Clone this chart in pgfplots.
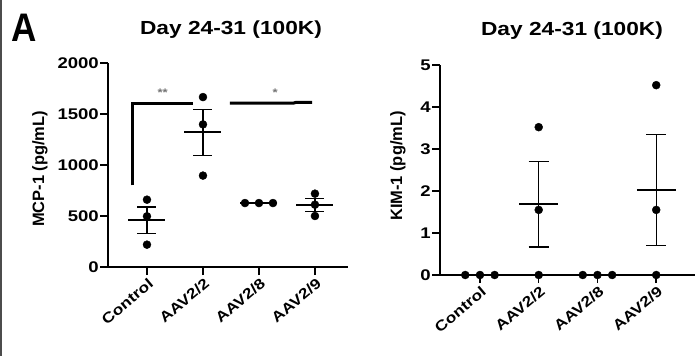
\documentclass[border=0pt]{standalone}
\usepackage{fontspec}
\setmainfont{Liberation Sans}[FakeStretch=1.2]
\newfontfamily\plainfont{Liberation Sans}
\usepackage{pgfplots}
\pgfplotsset{compat=1.18}
\begin{document}
\begin{tikzpicture}
\path[use as bounding box] (0bp,0bp) rectangle (700bp,356bp);
\draw[black!70, line width=1.5bp] (0.8bp,0bp) -- (0.8bp,356bp);
\node[font=\plainfont\bfseries\fontsize{40}{40}\selectfont, inner sep=0pt] at (24.5bp,328bp) {\scalebox{0.88}[1]{A}};
\pgfplotsset{
  mystyle/.style={
    scale only axis, anchor=south west,
    axis x line=bottom, axis y line=left,
    axis line style={-, line width=2bp},
    x axis line style={-}, y axis line style={-},
    tick style={line width=1.5bp, black},
    major tick length=8bp, tick align=outside,
    clip=false,
    /pgf/number format/assume math mode=true,
    /pgf/number format/1000 sep={},
    xtick={0,1,2,3},
    xticklabels={Control,AAV2/2,AAV2/8,AAV2/9},
    x tick label style={font=\bfseries\fontsize{14.5}{14.5}\selectfont, rotate=40, anchor=north east, inner sep=1bp, yshift=-1bp},
    y tick label style={font=\bfseries\fontsize{15.5}{15.5}\selectfont, inner sep=1bp},
    unbounded coords=jump,
  },
  dots/.style={only marks, mark=*, mark size=4bp, black},
  meanl/.style={black, line width=2.2bp, no marks},
  errb/.style={black, line width=1.3bp, no marks},
}
% ---------- Left panel ----------
\begin{axis}[mystyle, at={(108bp,89bp)}, width=240bp, height=204bp,
  xmin=-0.696, xmax=3.59, ymin=0, ymax=2000, ytick={0,500,1000,1500,2000}]
\addplot[dots] coordinates {(0,660) (0,497) (0,219)
  (1,1666) (1,1398) (1,896)
  (1.75,627) (2,627) (2.25,627)
  (3,719) (3,611) (3,500)};
\addplot[meanl] coordinates {(-0.33,459) (0.33,459) (0,nan)
  (0.67,1320) (1.33,1320) (1,nan)
  (1.67,627) (2.33,627) (2,nan)
  (2.67,610) (3.33,610)};
\addplot[errb] coordinates {
  (-0.17,330) (0.17,330) (0,nan) (0,330) (0,588) (0,nan) (-0.17,588) (0.17,588) (0,nan)
  (0.83,1094) (1.17,1094) (1,nan) (1,1094) (1,1546) (1,nan) (0.83,1546) (1.17,1546) (1,nan)
  (2.83,547) (3.17,547) (3,nan) (3,547) (3,673) (3,nan) (2.83,673) (3.17,673)};
% significance brackets
\addplot[black, line width=3bp, no marks] coordinates {(-0.26,800) (-0.26,1607) (0.82,1607)};
\addplot[black, line width=3bp, no marks] coordinates {(1.48,1607) (2.62,1607) (2.66,1614) (2.95,1614)};
\node[black!55, font=\bfseries\fontsize{11}{11}\selectfont] at (axis cs:0.28,1705) {**};
\node[black!55, font=\bfseries\fontsize{11}{11}\selectfont] at (axis cs:2.29,1705) {*};
\end{axis}
% ---------- Right panel ----------
\begin{axis}[mystyle, at={(440bp,81bp)}, width=255bp, height=210bp,
  xmin=-0.68, xmax=3.66, ymin=0, ymax=5, ytick={0,1,2,3,4,5}]
\addplot[dots] coordinates {(-0.25,0) (0,0) (0.25,0)
  (1,3.52) (1,1.55) (1,0)
  (1.75,0) (2,0) (2.25,0)
  (3,4.52) (3,1.55) (3,0)};
\addplot[meanl] coordinates {(-0.33,0) (0.33,0) (0,nan)
  (0.67,1.69) (1.33,1.69) (1,nan)
  (1.67,0) (2.33,0) (2,nan)
  (2.67,2.02) (3.33,2.02)};
\addplot[errb] coordinates {
  (0.83,0.67) (1.17,0.67) (1,nan) (1,0.67) (1,2.71) (1,nan) (0.83,2.71) (1.17,2.71) (1,nan)
  (2.83,0.70) (3.17,0.70) (3,nan) (3,0.70) (3,3.35) (3,nan) (2.83,3.35) (3.17,3.35)};
\end{axis}
% titles and labels
\node[font=\bfseries\fontsize{19}{19}\selectfont] at (231bp,326bp) {Day 24-31 (100K)};
\node[font=\bfseries\fontsize{19}{19}\selectfont] at (572bp,325bp) {Day 24-31 (100K)};
\node[rotate=90, font=\plainfont\bfseries\fontsize{16.5}{16.5}\selectfont] at (40bp,187bp) {MCP-1 (pg/mL)};
\node[rotate=90, font=\plainfont\bfseries\fontsize{16.5}{16.5}\selectfont] at (398bp,190bp) {KIM-1 (pg/mL)};
\end{tikzpicture}
\end{document}
